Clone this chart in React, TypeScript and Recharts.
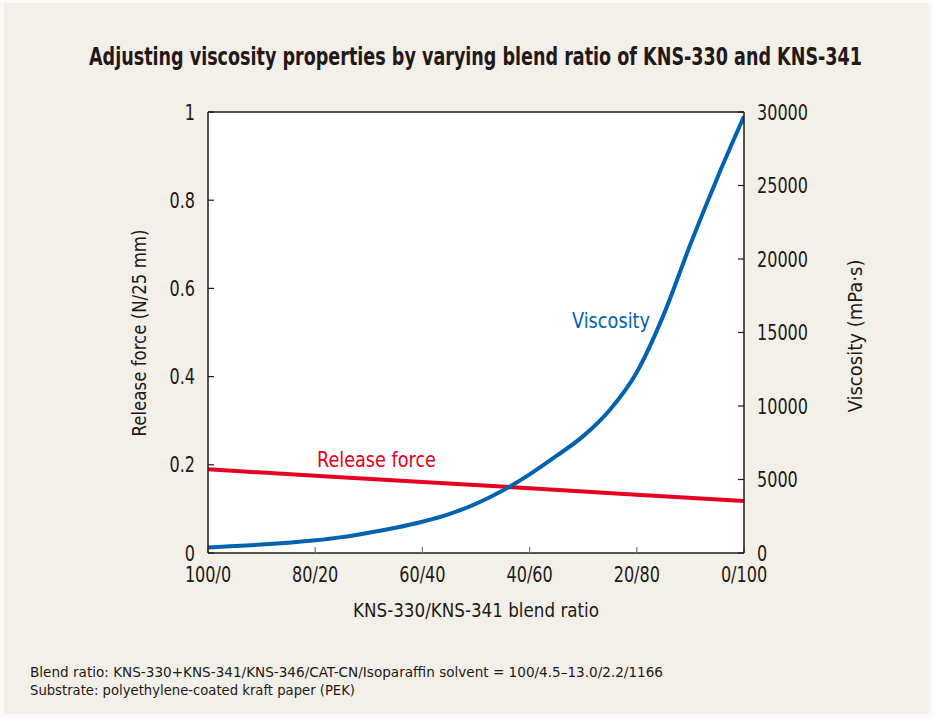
import React from "react";
import { LineChart, Line, XAxis, YAxis, CartesianGrid, ReferenceLine } from "recharts";

const blendX = [0, 5, 10, 15, 20, 25, 30, 35, 40, 45, 50, 55, 60, 65, 70, 75, 80, 85, 90, 95, 100];
const viscosity = [380, 470, 570, 700, 860, 1080, 1380, 1720, 2130, 2650, 3350, 4250, 5350, 6600, 7950, 9750, 12300, 16200, 21000, 25500, 29700];

const forceX = [0, 20, 40, 60, 80, 100];
const releaseForce = [0.19, 0.175, 0.161, 0.147, 0.132, 0.118];

const xTicks = [0, 20, 40, 60, 80, 100];
const xTickLabels = ["100/0", "80/20", "60/40", "40/60", "20/80", "0/100"];
const leftTicks = [0, 0.2, 0.4, 0.6, 0.8, 1];
const leftTickLabels = ["0", "0.2", "0.4", "0.6", "0.8", "1"];
const rightTicks = [0, 5000, 10000, 15000, 20000, 25000, 30000];

const title = "Adjusting viscosity properties by varying blend ratio of KNS-330 and KNS-341";
const xTitle = "KNS-330/KNS-341 blend ratio";
const leftTitle = "Release force (N/25 mm)";
const rightTitle = "Viscosity (mPa·s)";
const notes = [
  "Blend ratio: KNS-330+KNS-341/KNS-346/CAT-CN/Isoparaffin solvent = 100/4.5–13.0/2.2/1166",
  "Substrate: polyethylene-coated kraft paper (PEK)",
];

const viscData = blendX.map((x, i) => ({ x, v: viscosity[i] }));
const forceData = forceX.map((x, i) => ({ x, f: releaseForce[i] }));

const FONT = "'DejaVu Sans Condensed', 'Liberation Sans Narrow', sans-serif";
const INK = "#231815";
const BLUE = "#0062b0";
const RED = "#e60021";
const TICK_FS = 20.5;
const TICK_SX = 0.87;

function makeTick(kind: "x" | "left" | "right") {
  return function Tick(props: any) {
    const { x, y, payload } = props;
    const v = payload?.value;
    let label = String(v);
    let anchor: "start" | "middle" | "end" = "middle";
    let by = y;
    if (kind === "x") {
      label = xTickLabels[xTicks.indexOf(v)] ?? label;
      anchor = "middle";
      by = y;
    } else if (kind === "left") {
      label = leftTickLabels[leftTicks.indexOf(v)] ?? label;
      anchor = "end";
      by = y + 7.5;
    } else {
      anchor = "start";
      by = y + 7.5;
    }
    return (
      <text
        transform={`translate(${x},${by}) scale(${TICK_SX},1)`}
        x={0}
        y={0}
        textAnchor={anchor}
        fill={INK}
        fontSize={TICK_FS}
        fontFamily={FONT}
      >
        {label}
      </text>
    );
  };
}

const XTick = makeTick("x");
const LTick = makeTick("left");
const RTick = makeTick("right");

export default function App() {
  return (
    <div
      style={{
        position: "absolute",
        left: 0,
        top: 0,
        width: 933,
        height: 718,
        background: "#fbfaf7",
        overflow: "hidden",
      }}
    >
      <div
        style={{
          position: "absolute",
          left: 4,
          top: 3,
          width: 925,
          height: 711,
          background: "#f3f0e9",
        }}
      />
      <div style={{ position: "absolute", left: 0, top: 0 }}>
        <LineChart
          width={933}
          height={718}
          margin={{ top: 112, right: 129, bottom: 135, left: 148 }}
        >
          <CartesianGrid fill="#ffffff" horizontal={false} vertical={false} yAxisId="left" />
          <XAxis
            dataKey="x"
            type="number"
            domain={[0, 100]}
            ticks={xTicks}
            height={30}
            tickSize={-6}
            tickMargin={35}
            tick={<XTick />}
            axisLine={{ stroke: INK, strokeWidth: 1.5 }}
            tickLine={{ stroke: "#777", strokeWidth: 1.2 }}
            allowDataOverflow
          />
          <YAxis
            yAxisId="left"
            orientation="left"
            type="number"
            domain={[0, 1]}
            ticks={leftTicks}
            width={60}
            tickSize={-6}
            tickMargin={19}
            tick={<LTick />}
            axisLine={{ stroke: INK, strokeWidth: 1.5 }}
            tickLine={{ stroke: INK, strokeWidth: 1.2 }}
          />
          <YAxis
            yAxisId="right"
            orientation="right"
            type="number"
            domain={[0, 30000]}
            ticks={rightTicks}
            width={60}
            tickSize={-6}
            tickMargin={19}
            tick={<RTick />}
            axisLine={{ stroke: INK, strokeWidth: 1.5 }}
            tickLine={{ stroke: INK, strokeWidth: 1.2 }}
          />
          <ReferenceLine yAxisId="left" y={1} stroke={INK} strokeWidth={1.5} />
          <Line
            yAxisId="left"
            data={forceData}
            dataKey="f"
            type="linear"
            stroke={RED}
            strokeWidth={4}
            dot={false}
            isAnimationActive={false}
          />
          <Line
            yAxisId="right"
            data={viscData}
            dataKey="v"
            type="monotone"
            stroke={BLUE}
            strokeWidth={4}
            dot={false}
            isAnimationActive={false}
          />
        </LineChart>
      </div>

      <svg
        width={933}
        height={718}
        style={{ position: "absolute", left: 0, top: 0, pointerEvents: "none" }}
        fontFamily={FONT}
      >
        <text x={475.5} y={65} textAnchor="middle" fontSize={24} fontWeight="bold" fill={INK}
          textLength={773} lengthAdjust="spacingAndGlyphs">{title}</text>
        <text x={476} y={617} textAnchor="middle" fontSize={20} fill={INK}
          textLength={246} lengthAdjust="spacingAndGlyphs">{xTitle}</text>
        <text transform="translate(146,333) rotate(-90)" x={0} y={0} textAnchor="middle" fontSize={19} fill={INK}
          textLength={207} lengthAdjust="spacingAndGlyphs">{leftTitle}</text>
        <text transform="translate(862,336) rotate(-90)" x={0} y={0} textAnchor="middle" fontSize={19} fill={INK}
          textLength={153} lengthAdjust="spacingAndGlyphs">{rightTitle}</text>
        <text x={611} y={328} textAnchor="middle" fontSize={22} fill={BLUE}
          textLength={78} lengthAdjust="spacingAndGlyphs">Viscosity</text>
        <text x={376.5} y={467} textAnchor="middle" fontSize={22} fill={RED}
          textLength={119} lengthAdjust="spacingAndGlyphs">Release force</text>
        <text x={30} y={677} fontSize={14.5} fill={INK}
          textLength={633} lengthAdjust="spacingAndGlyphs">{notes[0]}</text>
        <text x={30} y={695} fontSize={14.5} fill={INK}
          textLength={325} lengthAdjust="spacingAndGlyphs">{notes[1]}</text>
      </svg>
    </div>
  );
}
